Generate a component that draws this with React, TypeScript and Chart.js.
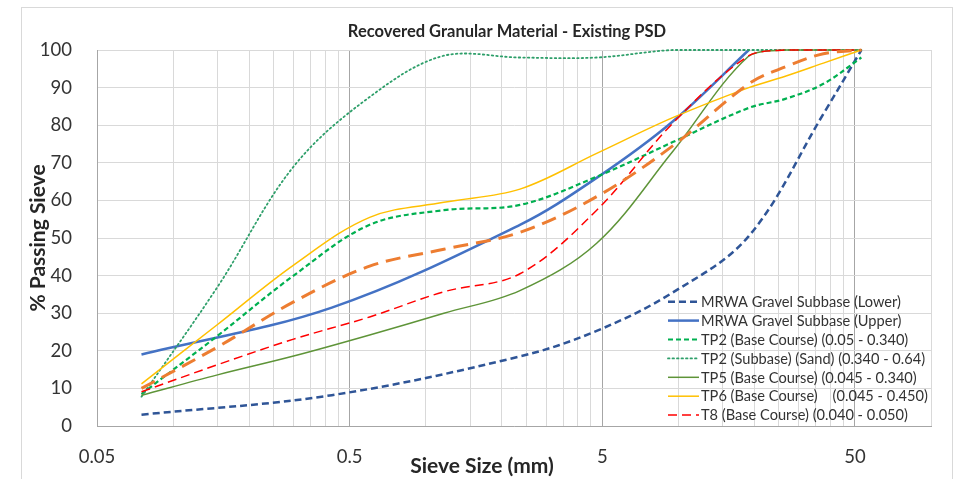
import React, { useEffect, useRef } from 'react';
import { Chart, registerables } from 'chart.js';
Chart.register(...registerables);

// Sieve sizes (mm)
const SIEVES = [0.075, 0.15, 0.3, 0.425, 0.6, 1.18, 2.36, 4.75, 9.5, 13.2, 19, 26.5, 37.5, 53];

// % passing for each series (null = sieve not reported for that series)
const MRWA_LOWER = [3, null, null, 8.2, null, null, 18.5, 25.3, 35.5, null, 50.5, null, 83, 100];
const MRWA_UPPER = [19, null, null, 31.5, null, null, 53.5, 66, 81, null, 100, null, null, null];
const TP2_BASE = [8.5, 24, 40, null, 53.5, 57.4, 58.8, 66.3, 75.5, null, 84.6, 87, 91, 98];
const TP2_SAND = [7.8, 37, 69, null, 87.5, 98.5, 98, 98, 100, null, 100, 100, 100, 100];
const TP5_BASE = [8.2, 13.6, 18.6, null, 24.2, 30, 36, 48.6, 73, null, 98.4, 100, 100, 100];
const TP6_BASE = [11.2, 27, 42.8, null, 55.5, 59.5, 63, 72.5, 82, null, 90, 93, 96.5, 100];
const T8_BASE = [9.1, 16.3, 23.1, null, 29, 35.7, 40.5, 57.4, 80.5, null, 98.5, 100, 100, 100];
const AVERAGE = [10, 21, 33, null, 42.5, 47, 51.5, 61, 74.5, null, 91, 95.5, 99, 100];

const LABELS = [
  'MRWA Gravel Subbase (Lower)',
  'MRWA Gravel Subbase (Upper)',
  'TP2 (Base Course) (0.05 - 0.340)',
  'TP2 (Subbase) (Sand) (0.340 - 0.64)',
  'TP5 (Base Course) (0.045 - 0.340)',
  'TP6 (Base Course)    (0.045 - 0.450)',
  'T8 (Base Course) (0.040 - 0.050)',
  '',
];

const X_GRID_VALUES = [
  0.05, 0.1, 0.15, 0.2, 0.25, 0.3, 0.35, 0.4, 0.45, 0.5,
  1, 1.5, 2, 2.5, 3, 3.5, 4, 4.5, 5,
  10, 15, 20, 25, 30, 35, 40, 45, 50, 100,
];
const X_MAJOR = [0.05, 0.5, 5, 50];
const X_TICK_LABELS = ['0.05', '0.5', '5', '50'];

const TITLE = 'Recovered Granular Material - Existing PSD';
const X_TITLE = 'Sieve Size (mm)';
const Y_TITLE = '% Passing Sieve';

const FONT = 'Lato, "Open Sans", sans-serif';

const toPoints = (vals: (number | null)[]) =>
  SIEVES.map((x, i) => ({ x, y: vals[i] })).filter((p) => p.y !== null);

const STYLES = [
  { color: '#2F5597', width: 2.5, dash: [7, 4] },
  { color: '#4472C4', width: 2.5, dash: [] },
  { color: '#00B050', width: 2.2, dash: [5, 3] },
  { color: '#2E9F6A', width: 1.8, dash: [1.5, 3] },
  { color: '#5E9438', width: 1.5, dash: [] },
  { color: '#FFC000', width: 1.5, dash: [] },
  { color: '#FF0000', width: 1.5, dash: [9, 5] },
  { color: '#ED7D31', width: 3, dash: [15, 8] },
];

const SERIES = [MRWA_LOWER, MRWA_UPPER, TP2_BASE, TP2_SAND, TP5_BASE, TP6_BASE, T8_BASE, AVERAGE];

const decorPlugin = {
  id: 'decor',
  beforeDraw(chart: any) {
    const ctx = chart.ctx;
    ctx.save();
    ctx.fillStyle = '#ffffff';
    ctx.fillRect(0, 0, chart.width, chart.height);
    ctx.strokeStyle = '#D9D9D9';
    ctx.lineWidth = 1;
    ctx.strokeRect(21.5, 7.5, 931, 500);
    ctx.restore();
  },
  afterDraw(chart: any) {
    const ctx = chart.ctx;
    ctx.save();
    // Title
    ctx.fillStyle = '#262626';
    ctx.textAlign = 'center';
    ctx.textBaseline = 'middle';
    ctx.font = `bold 16.5px ${FONT}`;
    ctx.fillText(TITLE, 507, 32);
    // Axis titles
    ctx.font = `bold 21px ${FONT}`;
    ctx.fillText(X_TITLE, 482, 466);
    ctx.save();
    ctx.translate(38, 238);
    ctx.rotate(-Math.PI / 2);
    ctx.fillText(Y_TITLE, 0, 0);
    ctx.restore();

    // Legend
    const items = chart.data.datasets.filter((d: any) => d.label);
    ctx.font = `14.6px ${FONT}`;
    ctx.textAlign = 'left';
    ctx.textBaseline = 'middle';
    items.forEach((d: any, i: number) => {
      const y = 301.7 + i * 18.9;
      ctx.save();
      ctx.strokeStyle = d.borderColor;
      ctx.lineWidth = d.borderWidth;
      ctx.setLineDash(d.borderDash || []);
      ctx.lineCap = d.borderCapStyle || 'butt';
      ctx.beginPath();
      ctx.moveTo(668, y);
      ctx.lineTo(699, y);
      ctx.stroke();
      ctx.restore();
      ctx.fillStyle = '#333333';
      ctx.fillText(d.label, 701, y + 0.5);
    });
    ctx.restore();
  },
};

export default function App() {
  const ref = useRef<HTMLCanvasElement>(null);
  useEffect(() => {
    const datasets = SERIES.map((vals, i) => ({
      label: LABELS[i],
      data: toPoints(vals),
      borderColor: STYLES[i].color,
      backgroundColor: STYLES[i].color,
      borderWidth: STYLES[i].width,
      borderDash: STYLES[i].dash,
      borderCapStyle: i === 3 ? 'round' : 'butt',
      pointRadius: 0,
      tension: 0.35,
      fill: false,
      clip: { left: 0, right: 0, top: 3, bottom: 0 },
      order: SERIES.length - i,
    }));
    const chart = new Chart(ref.current!, {
      type: 'line',
      data: { datasets } as any,
      options: {
        animation: false,
        responsive: false,
        devicePixelRatio: 1,
        layout: { padding: { top: 50, right: 27, left: 0, bottom: 0 } },
        elements: { line: { capBezierPoints: true } },
        plugins: {
          legend: { display: false },
          title: { display: false },
          tooltip: { enabled: false },
        },
        scales: {
          x: {
            type: 'logarithmic',
            min: 0.05,
            max: 100,
            afterBuildTicks: (scale: any) => {
              scale.ticks = X_GRID_VALUES.map((v) => ({ value: v }));
            },
            afterFit: (scale: any) => {
              scale.height = 53;
            },
            ticks: {
              autoSkip: false,
              maxRotation: 0,
              minRotation: 0,
              padding: 20,
              color: '#333333',
              font: { family: FONT, size: 18.5 },
              callback: (v: any) => {
                const i = X_MAJOR.indexOf(Number(v));
                return i >= 0 ? X_TICK_LABELS[i] : '';
              },
            },
            grid: {
              drawTicks: false,
              color: (c: any) => (c.tick && X_MAJOR.includes(c.tick.value) ? '#A6A6A6' : '#D9D9D9'),
              lineWidth: 1,
            },
            border: { display: true, color: '#A6A6A6', width: 1 },
          },
          y: {
            type: 'linear',
            min: 0,
            max: 100,
            afterFit: (scale: any) => {
              scale.width = 97;
            },
            ticks: {
              stepSize: 10,
              padding: 25,
              color: '#333333',
              font: { family: FONT, size: 18.5 },
            },
            grid: { drawTicks: false, color: '#D9D9D9', lineWidth: 1 },
            border: { display: true, color: '#A6A6A6', width: 1 },
          },
        },
      },
      plugins: [decorPlugin],
    } as any);
    return () => chart.destroy();
  }, []);
  return (
    <div style={{ position: 'fixed', left: 0, top: 0, width: 958, height: 479, background: '#fff' }}>
      <canvas ref={ref} width={958} height={479} style={{ display: 'block' }} />
    </div>
  );
}
